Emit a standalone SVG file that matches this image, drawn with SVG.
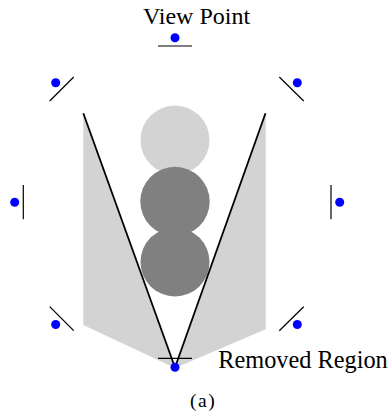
<svg xmlns="http://www.w3.org/2000/svg" width="391" height="417" viewBox="0 0 391 417">
<style>
.reg{fill:#d3d3d3;stroke:none}
.dark{fill:#808080}
.cam{stroke:#000;stroke-width:1.2;fill:none}
.dot{fill:#0000ff}
.ray{stroke:#000;stroke-width:1.8;fill:none}
.lbl{fill:#000}
</style>
<rect width="391" height="417" fill="#fff"/>
<g id="region">
<polygon class="reg" points="83.3,113.3 83.3,325 175,368 265.7,329.3 265.7,113.3 175,368"/>
</g>
<g id="objects">
<circle cx="175" cy="140" r="34.5" fill="#d3d3d3"/>
<circle class="dark" cx="175" cy="201.5" r="34.7"/>
<circle class="dark" cx="175" cy="262" r="34.5"/>
</g>
<g id="connectors">
<line class="ray" x1="83.3" y1="113.3" x2="175" y2="367.5"/>
<line class="ray" x1="265.5" y1="113.3" x2="175" y2="367.5"/>
</g>
<g id="cam-top"><line class="cam" x1="158" y1="46" x2="192" y2="46"/><circle class="dot" cx="175" cy="37.7" r="4.5"/></g>
<g id="cam-ul"><line class="cam" x1="49.7" y1="101" x2="73.7" y2="77"/><circle class="dot" cx="55.7" cy="82.7" r="4.5"/></g>
<g id="cam-ur"><line class="cam" x1="279.3" y1="77" x2="303.7" y2="101"/><circle class="dot" cx="297.3" cy="82.7" r="4.5"/></g>
<g id="cam-l"><line class="cam" x1="23.3" y1="185" x2="23.3" y2="219.3"/><circle class="dot" cx="14.7" cy="202.3" r="4.5"/></g>
<g id="cam-r"><line class="cam" x1="331" y1="185" x2="331" y2="219.3"/><circle class="dot" cx="339.7" cy="202.3" r="4.5"/></g>
<g id="cam-ll"><line class="cam" x1="49.7" y1="306.7" x2="73.7" y2="330.7"/><circle class="dot" cx="55.7" cy="324.5" r="4.5"/></g>
<g id="cam-lr"><line class="cam" x1="279.3" y1="330.7" x2="303.7" y2="306.7"/><circle class="dot" cx="297.3" cy="324.5" r="4.5"/></g>
<g id="cam-bottom"><line class="cam" x1="158" y1="358.3" x2="192" y2="358.3"/><circle class="dot" cx="175" cy="367.3" r="4.5"/></g>
<g id="labels" font-family="'Liberation Serif', 'DejaVu Serif', serif">
<text class="lbl" x="196.5" y="24.3" font-size="24" text-anchor="middle">View Point</text>
<text class="lbl" x="218.3" y="368.3" font-size="24.3">Removed Region</text>
<text class="lbl" x="203.2" y="407" font-size="19.5" text-anchor="middle" letter-spacing="1.5">(a)</text>
</g>
</svg>
